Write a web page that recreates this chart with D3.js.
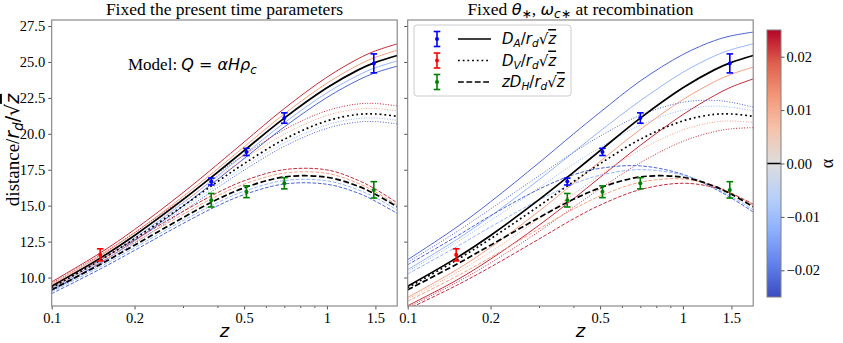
<!doctype html>
<html>
<head>
<meta charset="utf-8">
<title>distance / r_d / sqrt(z)</title>
<script src="https://d3js.org/d3.v7.min.js"></script>
<style>
  body { margin: 0; background: #fff; }
  svg { display: block; }
</style>
</head>
<body>
<div id="plot"></div>
<script>
// ---- data ----
const zGrid = [0.1, 0.15, 0.2, 0.3, 0.4, 0.5, 0.7, 1.0, 1.3, 1.5, 1.8];
const alphas = [-0.02, -0.01, 0, 0.01, 0.02];

// left panel: fixed present-time parameters (rows follow alphas)
const leftDA = [
  [9.13, 11.02, 12.56, 14.97, 16.82, 18.28, 20.48, 22.53, 23.74, 24.25, 24.71],
  [9.26, 11.18, 12.74, 15.19, 17.06, 18.55, 20.77, 22.85, 24.08, 24.60, 25.07],
  [9.40, 11.35, 12.93, 15.42, 17.32, 18.83, 21.09, 23.20, 24.45, 24.97, 25.45],
  [9.53, 11.51, 13.11, 15.64, 17.56, 19.09, 21.39, 23.52, 24.79, 25.32, 25.81],
  [9.70, 11.71, 13.34, 15.91, 17.87, 19.43, 21.76, 23.94, 25.23, 25.77, 26.26]
];
const leftDV = [
  [9.07, 10.92, 12.38, 14.61, 16.25, 17.47, 19.13, 20.38, 20.82, 20.85, 20.69],
  [9.18, 11.05, 12.53, 14.79, 16.45, 17.69, 19.37, 20.63, 21.07, 21.10, 20.94],
  [9.30, 11.20, 12.70, 14.98, 16.67, 17.92, 19.62, 20.90, 21.35, 21.38, 21.22],
  [9.47, 11.40, 12.93, 15.25, 16.97, 18.24, 19.97, 21.28, 21.73, 21.76, 21.60],
  [9.62, 11.58, 13.13, 15.49, 17.24, 18.53, 20.29, 21.61, 22.08, 22.11, 21.94]
];
const leftDH = [
  [8.88, 10.59, 11.89, 13.76, 14.99, 15.77, 16.51, 16.49, 15.87, 15.31, 14.46],
  [9.01, 10.75, 12.07, 13.96, 15.21, 16.00, 16.75, 16.73, 16.10, 15.56, 14.70],
  [9.15, 10.91, 12.25, 14.17, 15.44, 16.24, 17.00, 16.98, 16.35, 15.80, 14.92],
  [9.30, 11.08, 12.45, 14.40, 15.69, 16.50, 17.27, 17.25, 16.55, 15.96, 15.04],
  [9.42, 11.24, 12.62, 14.60, 15.90, 16.73, 17.51, 17.49, 16.76, 16.15, 15.20]
];

// right panel: fixed theta*, omega_c* at recombination
const rightDA = [
  [11.24, 13.48, 15.27, 17.99, 19.99, 21.50, 23.68, 25.52, 26.48, 26.82, 27.08],
  [10.55, 12.62, 14.27, 16.81, 18.71, 20.19, 22.30, 24.28, 25.41, 25.86, 26.26],
  [9.40, 11.35, 12.93, 15.42, 17.32, 18.83, 21.09, 23.20, 24.45, 24.97, 25.45],
  [8.62, 10.52, 12.10, 14.62, 16.55, 18.08, 20.30, 22.38, 23.62, 24.15, 24.64],
  [8.04, 9.80, 11.28, 13.64, 15.48, 16.97, 19.20, 21.34, 22.66, 23.26, 23.82]
];
const rightDV = [
  [11.07, 13.16, 14.77, 17.08, 18.70, 19.84, 21.29, 22.20, 22.33, 22.19, 21.86],
  [10.42, 12.43, 13.97, 16.25, 17.89, 19.05, 20.60, 21.65, 21.93, 21.85, 21.60],
  [9.30, 11.20, 12.70, 14.98, 16.67, 17.92, 19.62, 20.90, 21.35, 21.38, 21.22],
  [8.50, 10.32, 11.79, 14.08, 15.80, 17.11, 18.89, 20.27, 20.82, 20.89, 20.80],
  [7.93, 9.64, 11.02, 13.21, 14.89, 16.18, 17.99, 19.48, 20.15, 20.35, 20.43]
];
const rightDH = [
  [10.89, 12.85, 14.30, 16.15, 17.15, 17.60, 17.77, 17.18, 16.19, 15.53, 14.56],
  [10.25, 12.12, 13.52, 15.40, 16.52, 17.12, 17.51, 17.12, 16.25, 15.64, 14.71],
  [9.15, 10.91, 12.25, 14.17, 15.44, 16.24, 17.00, 16.98, 16.35, 15.80, 14.92],
  [8.36, 10.07, 11.40, 13.39, 14.76, 15.67, 16.63, 16.86, 16.38, 15.88, 15.02],
  [7.80, 9.44, 10.73, 12.68, 14.08, 15.04, 16.12, 16.56, 16.27, 15.85, 15.11]
];

// BAO points
const daZ = [0.38, 0.51, 0.70, 1.48], daVal = [16.68, 18.74, 21.10, 24.90], daErr = [0.24, 0.25, 0.36, 0.66];
const dvZ = [0.15], dvVal = [11.58], dvErr = [0.42];
const dhZ = [0.38, 0.51, 0.70, 1.48], dhVal = [15.38, 15.97, 16.56, 16.10], dhErr = [0.47, 0.41, 0.39, 0.57];

const xTicks = [0.1, 0.2, 0.5, 1, 1.5];
const xMinor = [0.3, 0.4, 0.6, 0.7, 0.8, 0.9];
const yTicks = [10, 12.5, 15, 17.5, 20, 22.5, 25, 27.5];
const cbTicks = [-0.02, -0.01, 0, 0.01, 0.02];

// coolwarm stops
const coolwarm = ["#3b4cc0", "#6282ea", "#8db0fe", "#b8d0f9", "#dddddd", "#f5c4ac", "#f4987a", "#de604d", "#b40426"];
const curveColors = ["#4b64d5", "#93b5fe", "#000000", "#f59f80", "#c42a3a"];

// ---- layout ----
const W = 843, H = 343;
const serif = "'Liberation Serif', 'Times New Roman', serif";
const sans = "'DejaVu Sans', sans-serif";
const plotTop = 20, plotBottom = 306;
const panels = [
  {x0: 51.7, x1: 397.2, DA: leftDA, DV: leftDV, DH: leftDH, ylabels: true},
  {x0: 407.7, x1: 753.2, DA: rightDA, DV: rightDV, DH: rightDH, ylabels: false}
];

const svg = d3.select("#plot").append("svg")
  .attr("width", W).attr("height", H)
  .attr("viewBox", `0 0 ${W} ${H}`);

const y = d3.scaleLinear().domain([8.02, 27.92]).range([plotBottom, plotTop]);

// write mathtext-like labels with tspans
function mathText(t, parts, size) {
  let shift = 0;
  parts.forEach(p => {
    const ts = t.append("tspan").text(p.t)
      .style("font-family", p.serif ? serif : sans)
      .style("font-style", p.it ? "italic" : "normal");
    const want = p.sub ? size * 0.22 : 0;
    if (want !== shift) { ts.attr("dy", want - shift); shift = want; }
    const s = p.sub ? size * 0.7 : (p.scale ? size * p.scale : size);
    ts.style("font-size", s + "px");
    if (p.over) ts.style("text-decoration", "overline");
  });
}

const styles = {
  DA: {dash: null, blackDash: null},
  DV: {dash: "1,1.6", blackDash: "1.8,2.9"},
  DH: {dash: "3.7,1.6", blackDash: "5.8,2.6"}
};

panels.forEach((p, pi) => {
  const x = d3.scaleLog().domain([0.1, 1.8]).range([p.x0, p.x1]);
  const g = svg.append("g");

  const clipId = "clip" + pi;
  svg.append("clipPath").attr("id", clipId)
    .append("rect").attr("x", p.x0).attr("y", plotTop).attr("width", p.x1 - p.x0).attr("height", plotBottom - plotTop);

  const line = d3.line()
    .x(d => x(d[0])).y(d => y(d[1]))
    .curve(d3.curveCatmullRom.alpha(0.5));

  const curves = g.append("g").attr("clip-path", `url(#${clipId})`);
  ["DA", "DV", "DH"].forEach(key => {
    p[key].forEach((vals, i) => {
      if (alphas[i] === 0) return;
      curves.append("path")
        .attr("d", line(zGrid.map((z, j) => [z, vals[j]])))
        .attr("fill", "none")
        .attr("stroke", curveColors[i])
        .attr("stroke-width", 1)
        .attr("stroke-dasharray", styles[key].dash);
    });
  });
  ["DA", "DV", "DH"].forEach(key => {
    const i = alphas.indexOf(0);
    curves.append("path")
      .attr("d", line(zGrid.map((z, j) => [z, p[key][i][j]])))
      .attr("fill", "none")
      .attr("stroke", "#000")
      .attr("stroke-width", 1.7)
      .attr("stroke-dasharray", styles[key].blackDash);
  });

  // error bars
  function errbars(zs, vals, errs, color) {
    const eg = g.append("g").attr("stroke", color).attr("fill", color);
    zs.forEach((z, i) => {
      const cx = x(z);
      const y1 = y(vals[i] - errs[i]), y2 = y(vals[i] + errs[i]);
      eg.append("line").attr("x1", cx).attr("x2", cx).attr("y1", y1).attr("y2", y2).attr("stroke-width", 1.6);
      eg.append("line").attr("x1", cx - 3.3).attr("x2", cx + 3.3).attr("y1", y1).attr("y2", y1).attr("stroke-width", 1.6);
      eg.append("line").attr("x1", cx - 3.3).attr("x2", cx + 3.3).attr("y1", y2).attr("y2", y2).attr("stroke-width", 1.6);
      eg.append("circle").attr("cx", cx).attr("cy", y(vals[i])).attr("r", 2).attr("stroke", "none");
    });
  }
  errbars(daZ, daVal, daErr, "#0000ff");
  errbars(dvZ, dvVal, dvErr, "#ff0000");
  errbars(dhZ, dhVal, dhErr, "#008000");

  // axes
  const xAxis = d3.axisBottom(x).tickValues(xTicks).tickFormat(d3.format("")).tickSize(3.5).tickPadding(3);
  const gx = svg.append("g").attr("transform", `translate(0,${plotBottom})`).call(xAxis);
  gx.select(".domain").remove();
  gx.selectAll("line").attr("stroke", "#555");
  gx.selectAll("text").style("font-family", serif).style("font-size", "14.5px").attr("fill", "#000");
  const gm = svg.append("g").attr("transform", `translate(0,${plotBottom})`)
    .call(d3.axisBottom(x).tickValues(xMinor).tickFormat("").tickSize(2));
  gm.select(".domain").remove();
  gm.selectAll("line").attr("stroke", "#555");

  const yAxis = d3.axisLeft(y).tickValues(yTicks).tickFormat(p.ylabels ? d3.format(".1f") : "").tickSize(3.5).tickPadding(3);
  const gy = svg.append("g").attr("transform", `translate(${p.x0},0)`).call(yAxis);
  gy.select(".domain").remove();
  gy.selectAll("line").attr("stroke", "#555");
  gy.selectAll("text").style("font-family", serif).style("font-size", "14.5px").attr("fill", "#000");

  // frame
  svg.append("rect").attr("x", p.x0).attr("y", plotTop).attr("width", p.x1 - p.x0).attr("height", plotBottom - plotTop)
    .attr("fill", "none").attr("stroke", "#808080").attr("stroke-width", 1.1);

  // x label
  svg.append("text").attr("x", (p.x0 + p.x1) / 2).attr("y", 337)
    .attr("text-anchor", "middle").style("font-family", sans).style("font-style", "italic").style("font-size", "18px")
    .text("z");

  // titles
  const tt = svg.append("text").attr("x", (p.x0 + p.x1) / 2).attr("y", 14.5)
    .attr("text-anchor", "middle");
  if (pi === 0) {
    mathText(tt, [{t: "Fixed the present time parameters", serif: true}], 17.5);
  } else {
    mathText(tt, [
      {t: "Fixed ", serif: true}, {t: "θ", it: true, scale: 0.92}, {t: "∗", sub: true},
      {t: ", ", serif: true}, {t: "ω", it: true, scale: 0.92}, {t: "c", it: true, sub: true}, {t: "∗", sub: true},
      {t: " at recombination", serif: true}
    ], 17.5);
  }
});

// y label
const yl = svg.append("text").attr("transform", "translate(19,150) rotate(-90)")
  .attr("text-anchor", "middle");
mathText(yl, [
  {t: "distance/", serif: true}, {t: "r", it: true}, {t: "d", it: true, sub: true},
  {t: "/√", it: false}, {t: "z", it: true, over: true}
], 19);

// model text
const mt = svg.append("text").attr("x", 128).attr("y", 70);
mathText(mt, [
  {t: "Model: ", serif: true}, {t: "Q", it: true, scale: 0.94}, {t: " = ", scale: 0.94}, {t: "αHρ", it: true, scale: 0.94}, {t: "c", it: true, sub: true}
], 17);

// legend
const lg = svg.append("g");
lg.append("rect").attr("x", 414).attr("y", 25).attr("width", 157).attr("height", 71).attr("rx", 3)
  .attr("fill", "#fff").attr("fill-opacity", 0.8).attr("stroke", "#cccccc");
const legendRows = [
  {color: "#0000ff", dash: null, label: [{t: "D", it: true}, {t: "A", it: true, sub: true}, {t: "/"}, {t: "r", it: true}, {t: "d", it: true, sub: true}, {t: "√"}, {t: "z", it: true, over: true}]},
  {color: "#ff0000", dash: "1.8,2.9", label: [{t: "D", it: true}, {t: "V", it: true, sub: true}, {t: "/"}, {t: "r", it: true}, {t: "d", it: true, sub: true}, {t: "√"}, {t: "z", it: true, over: true}]},
  {color: "#008000", dash: "5.8,2.6", label: [{t: "zD", it: true}, {t: "H", it: true, sub: true}, {t: "/"}, {t: "r", it: true}, {t: "d", it: true, sub: true}, {t: "√"}, {t: "z", it: true, over: true}]}
];
legendRows.forEach((r, i) => {
  const cy = 39 + i * 21.5;
  const e = lg.append("g").attr("stroke", r.color).attr("fill", r.color);
  e.append("line").attr("x1", 437).attr("x2", 437).attr("y1", cy - 7.5).attr("y2", cy + 7.5).attr("stroke-width", 1.6);
  e.append("line").attr("x1", 433.7).attr("x2", 440.3).attr("y1", cy - 7.5).attr("y2", cy - 7.5).attr("stroke-width", 1.6);
  e.append("line").attr("x1", 433.7).attr("x2", 440.3).attr("y1", cy + 7.5).attr("y2", cy + 7.5).attr("stroke-width", 1.6);
  e.append("circle").attr("cx", 437).attr("cy", cy).attr("r", 2).attr("stroke", "none");
  lg.append("line").attr("x1", 458).attr("x2", 491).attr("y1", cy).attr("y2", cy)
    .attr("stroke", "#000").attr("stroke-width", 1.7).attr("stroke-dasharray", r.dash);
  const t = lg.append("text").attr("x", 502).attr("y", cy + 5);
  mathText(t, r.label, 15);
});

// colorbar
const cb = {x: 767, w: 14, y0: 30, y1: 297};
const cbScale = d3.scaleLinear().domain([-0.025, 0.025]).range([cb.y1, cb.y0]);
const defs = svg.append("defs");
const grad = defs.append("linearGradient").attr("id", "cw").attr("x1", 0).attr("x2", 0).attr("y1", 1).attr("y2", 0);
coolwarm.forEach((c, i) => grad.append("stop").attr("offset", i / (coolwarm.length - 1)).attr("stop-color", c));
svg.append("rect").attr("x", cb.x).attr("y", cb.y0).attr("width", cb.w).attr("height", cb.y1 - cb.y0)
  .attr("fill", "url(#cw)");
svg.append("line").attr("x1", cb.x).attr("x2", cb.x + cb.w).attr("y1", cbScale(0)).attr("y2", cbScale(0))
  .attr("stroke", "#000").attr("stroke-width", 1.5);
svg.append("rect").attr("x", cb.x).attr("y", cb.y0).attr("width", cb.w).attr("height", cb.y1 - cb.y0)
  .attr("fill", "none").attr("stroke", "#808080").attr("stroke-width", 1);
const cbAxis = svg.append("g").attr("transform", `translate(${cb.x + cb.w},0)`)
  .call(d3.axisRight(cbScale).tickValues(cbTicks).tickFormat(d => d3.format(".2f")(d).replace("-", "−")).tickSize(3.5).tickPadding(2));
cbAxis.select(".domain").remove();
cbAxis.selectAll("line").attr("stroke", "#555");
cbAxis.selectAll("text").style("font-family", serif).style("font-size", "14.5px").attr("fill", "#000");
svg.append("text").attr("transform", `translate(833,${cbScale(0)}) rotate(-90)`)
  .attr("text-anchor", "middle").style("font-family", serif).style("font-size", "18px")
  .text("α");
</script>
</body>
</html>
